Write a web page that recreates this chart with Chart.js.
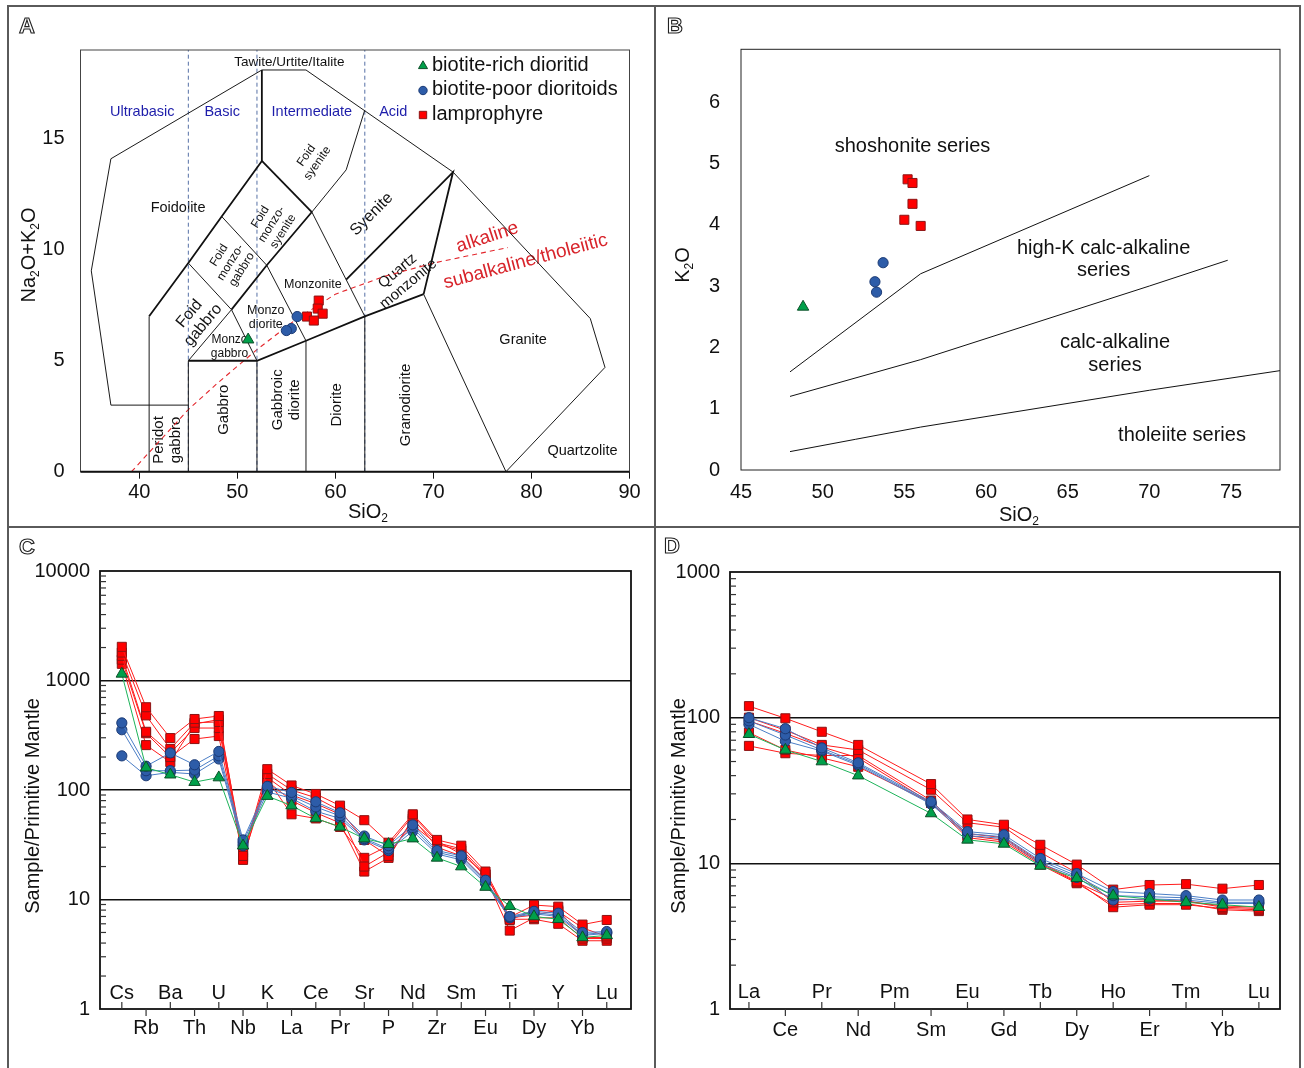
<!DOCTYPE html>
<html>
<head>
<meta charset="utf-8">
<script src="https://cdn.jsdelivr.net/npm/chart.js@4.4.1/dist/chart.umd.min.js"></script>
<style>
body { margin: 0; background: #fff; }
#page { position: relative; width: 1304px; height: 1068px; overflow: hidden; }
canvas { position: absolute; }
.rule { position: absolute; background: #5a5a5a; z-index: 2; }
.letter { position: absolute; z-index: 3; font: bold 22px 'Liberation Sans', Arial, sans-serif; line-height: 24px;
          color: #fff; -webkit-text-stroke: 1.1px #222; }
</style>
</head>
<body>
<div id="page">
  <canvas id="chartA" width="646" height="517" style="left:8px;top:8px"></canvas>
  <canvas id="chartB" width="644" height="517" style="left:656px;top:8px"></canvas>
  <canvas id="chartC" width="646" height="537" style="left:8px;top:529px"></canvas>
  <canvas id="chartD" width="644" height="537" style="left:656px;top:529px"></canvas>

  <div class="rule" style="left:7px;top:5px;width:1294px;height:2px"></div>
  <div class="rule" style="left:7px;top:5px;width:2px;height:1063px"></div>
  <div class="rule" style="left:1299px;top:5px;width:2px;height:1063px"></div>
  <div class="rule" style="left:654px;top:5px;width:2px;height:1063px"></div>
  <div class="rule" style="left:7px;top:526px;width:1294px;height:2px"></div>

  <div class="letter" style="left:19px;top:14px">A</div>
  <div class="letter" style="left:667px;top:14px">B</div>
  <div class="letter" style="left:19px;top:535px">C</div>
  <div class="letter" style="left:664px;top:534px">D</div>
</div>
<script>
const FONT = "'Liberation Sans', Arial, sans-serif";

// ---- A: TAS (SiO2 vs Na2O+K2O)
const tasRich = [[51.1, 5.95]];
const tasPoor = [[56.1, 6.99], [55.5, 6.45], [55.0, 6.36]];
const tasLamp = [[58.3, 7.71], [58.2, 7.35], [58.7, 7.12], [57.1, 6.99], [57.8, 6.81]];
const aXTicks = [40, 50, 60, 70, 80, 90];
const aYTicks = [0, 5, 10, 15];

// field boundaries (Middlemost 1994)
const tasThin = [
  [[37.1, 3], [35.1, 9.05], [37.1, 14.1], [52.5, 18.1], [57, 18.1], [72, 13.5], [86, 6.9], [87.5, 4.7], [77.4, 0]],
  [[37.1, 3], [45, 3]],
  [[41, 0], [41, 7]],
  [[45, 0], [45, 5]],
  [[52, 0], [52, 5]],
  [[57, 0], [57, 5.9]],
  [[63, 0], [63, 7]],
  [[69, 8], [77.4, 0]],
  [[45, 9.4], [49.4, 7.3]],
  [[48.4, 11.5], [53, 9.3]],
  [[45, 5], [49.4, 7.3], [52, 5]],
  [[53, 9.3], [57, 5.9]],
  [[57.6, 11.7], [63, 7]],
  [[57.6, 11.7], [61.1, 13.6], [63, 16.3]]
];
const tasThick = [
  [[45, 5], [52, 5], [57, 5.9], [63, 7], [69, 8]],
  [[41, 7], [45, 9.4], [48.4, 11.5], [52.5, 14]],
  [[52.5, 14], [52.5, 18.1]],
  [[52.5, 14], [57.6, 11.7]],
  [[49.4, 7.3], [53, 9.3], [57.6, 11.7]],
  [[61.1, 8.65], [72, 13.5], [69, 8]]
];
const acidBounds = [45, 52, 63];
const alkLine = [[39.2, 0], [45, 2.8], [48, 4], [52, 5.5], [55.8, 6.8], [60, 8], [65, 8.8], [70, 9.4], [77.6, 10.1]];

const tasNames = [
  { t: ['Tawite/Urtite/Italite'], x: 55.3, y: 18.46, s: 13.5, r: 0 },
  { t: ['Foidolite'], x: 43.95, y: 11.9, s: 14.5, r: 0 },
  { t: ['Foid', 'syenite'], x: 57.6, y: 14.07, s: 12, r: -55 },
  { t: ['Foid', 'monzo-', 'syenite'], x: 53.5, y: 11.15, s: 12, r: -58 },
  { t: ['Syenite'], x: 63.7, y: 11.6, s: 16, r: -45 },
  { t: ['Foid', 'monzo-', 'gabbro'], x: 49.3, y: 9.43, s: 12, r: -58 },
  { t: ['Foid', 'gabbro'], x: 45.8, y: 6.86, s: 16, r: -50 },
  { t: ['Monzonite'], x: 57.7, y: 8.43, s: 12.5, r: 0 },
  { t: ['Quartz', 'monzonite'], x: 66.9, y: 8.75, s: 15, r: -40 },
  { t: ['Monzo', 'diorite'], x: 52.9, y: 6.94, s: 12.5, r: 0 },
  { t: ['Monzo', 'gabbro'], x: 49.2, y: 5.63, s: 12, r: 0 },
  { t: ['Peridot', 'gabbro'], x: 42.9, y: 1.43, s: 15, r: -90 },
  { t: ['Gabbro'], x: 48.6, y: 2.79, s: 15, r: -90 },
  { t: ['Gabbroic', 'diorite'], x: 55.0, y: 3.24, s: 15, r: -90 },
  { t: ['Diorite'], x: 60.1, y: 3.01, s: 15, r: -90 },
  { t: ['Granodiorite'], x: 67.2, y: 3.01, s: 15, r: -90 },
  { t: ['Granite'], x: 79.15, y: 5.95, s: 14.5, r: 0 },
  { t: ['Quartzolite'], x: 85.2, y: 0.94, s: 14.5, r: 0 }
];
const zoneNames = [['Ultrabasic', 40.3], ['Basic', 48.45], ['Intermediate', 57.6], ['Acid', 65.9]];
const legendNames = ['biotite-rich dioritid', 'biotite-poor dioritoids', 'lamprophyre'];

// ---- B: SiO2 vs K2O
const kRich = [[48.8, 2.66]];
const kPoor = [[53.7, 3.38], [53.2, 3.07], [53.3, 2.90]];
const kLamp = [[55.2, 4.74], [55.5, 4.68], [55.5, 4.34], [55.0, 4.08], [56.0, 3.98]];
const bXTicks = [45, 50, 55, 60, 65, 70, 75];
const bYTicks = [0, 1, 2, 3, 4, 5, 6];
const shoLine = [[48, 1.6], [56, 3.2], [70, 4.8]];
const hkLine = [[48, 1.2], [56, 1.8], [63, 2.4], [70, 3.0], [74.8, 3.42]];
const caLine = [[48, 0.3], [52, 0.5], [56, 0.7], [63, 1.0], [70, 1.3], [78, 1.62]];
const seriesNames = [
  { t: ['shoshonite series'], x: 55.5, y: 5.28 },
  { t: ['high-K calc-alkaline', 'series'], x: 67.2, y: 3.43 },
  { t: ['calc-alkaline', 'series'], x: 67.9, y: 1.89 },
  { t: ['tholeiite series'], x: 72.0, y: 0.57 }
];

// ---- C: primitive mantle normalised spider
const spiderCats = ['Cs', 'Rb', 'Ba', 'Th', 'U', 'Nb', 'K', 'La', 'Ce', 'Pr', 'Sr', 'P', 'Nd', 'Zr', 'Sm', 'Eu', 'Ti', 'Dy', 'Y', 'Yb', 'Lu'];
const spiderRich = [
  [1150, 160, 138, 118, 130, 31, 88, 72, 55, 46, 36, 32, 36, 24, 20, 13, 8.7, 7.0, 6.6, 4.5, 4.7]
];
const spiderPoor = [
  [410, 165, 218, 170, 225, 35, 108, 95, 78, 62, 38, 31, 48, 28, 25, 15, 7.0, 7.8, 7.5, 5.0, 5.1],
  [355, 150, 150, 152, 205, 33, 103, 88, 70, 58, 36, 29, 45, 27, 24, 14.5, 6.9, 7.6, 7.2, 4.8, 5.0],
  [205, 135, 145, 140, 192, 31, 96, 84, 64, 55, 35, 28, 42, 26, 23, 14, 6.8, 7.4, 7.0, 4.7, 4.9]
];
const spiderLamp = [
  [2030, 570, 298, 445, 474, 25, 155, 110, 92, 72, 53, 33, 60, 35, 31, 18, 6.9, 8.9, 8.6, 5.9, 6.5],
  [1800, 480, 237, 412, 418, 23, 140, 100, 85, 65, 35, 25, 53, 33, 29, 17, 6.5, 8.0, 7.8, 5.5, 4.6],
  [1680, 340, 218, 368, 368, 27, 130, 90, 75, 60, 20, 27, 48, 32, 28, 16, 5.2, 6.8, 6.8, 4.4, 4.4],
  [1550, 330, 200, 292, 311, 24, 120, 80, 62, 50, 18, 24, 55, 30, 25, 15, 6.6, 6.6, 6.0, 4.2, 4.2],
  [1420, 257, 180, 400, 440, 28, 125, 60, 55, 46, 24, 31, 58, 34, 26, 17, 6.8, 7.2, 8.0, 4.5, 4.5]
];
const cYTicks = [1, 10, 100, 1000, 10000];

// ---- D: REE (Pm not analysed)
const reeCats = ['La', 'Ce', 'Pr', 'Nd', 'Pm', 'Sm', 'Eu', 'Gd', 'Tb', 'Dy', 'Ho', 'Er', 'Tm', 'Yb', 'Lu'];
const reeRich = [
  [77, 60, 50, 40, null, 22, 14.5, 13.6, 9.6, 7.9, 6.0, 5.7, 5.4, 5.2, 5.0]
];
const reePoor = [
  [100, 84, 62, 49, null, 26.5, 16.5, 15.7, 10.8, 8.5, 6.4, 6.2, 6.0, 5.6, 5.6],
  [95, 76, 60, 48, null, 26, 16, 15.2, 10.4, 8.2, 6.0, 5.9, 5.8, 5.4, 5.4],
  [90, 69, 59, 47, null, 25.5, 15.5, 14.8, 10.0, 8.0, 5.6, 5.7, 5.6, 5.3, 5.3]
];
const reeLamp = [
  [120, 99, 80, 65, null, 35, 20, 18.4, 13.4, 9.8, 6.6, 7.1, 7.2, 6.7, 7.1],
  [100, 82, 65, 60, null, 32, 19, 17.7, 11.9, 8.6, 5.4, 5.5, 5.5, 5.0, 4.9],
  [95, 78, 63, 53, null, 26, 16, 15, 10.2, 7.5, 5.0, 5.2, 5.2, 4.9, 4.8],
  [79, 60, 53, 46, null, 26, 15, 14, 9.8, 7.3, 5.2, 5.3, 5.3, 4.8, 4.7],
  [64, 57, 55, 55, null, 27, 15.5, 14.4, 10, 7.4, 5.7, 5.6, 5.5, 5.1, 5.0]
];
const dYTicks = [1, 10, 100, 1000];

const groups = {
  rich: { line: '#1db35a', fill: '#00a04a', edge: '#0c4f28', style: 'triangle', r: 6.6, order: 0 },
  poor: { line: '#4b7ec6', fill: '#2d5ca8', edge: '#1b3a74', style: 'circle', r: 5.1, order: 1 },
  lamp: { line: '#ff1c1c', fill: '#ff0000', edge: '#8c1414', style: 'rect', r: 6.4, order: 2 }
};

Chart.defaults.font.family = FONT;
Chart.defaults.color = '#111';

document.addEventListener('DOMContentLoaded', function() {
    makeTas();
    makeK2O();
    makeSpider('chartC', spiderCats, [spiderRich, spiderPoor, spiderLamp], cYTicks,
        { xMin: -0.9, xMax: 21, yWidth: 92, pad: { top: 42, right: 23 }, inY: 16, outY: 19, title: [25, 277] });
    makeSpider('chartD', reeCats, [reeRich, reePoor, reeLamp], dYTicks,
        { xMin: -0.52, xMax: 14.58, yWidth: 74, pad: { top: 43, right: 20 }, inY: 17, outY: 21, title: [23, 277] });
});

function scatterSet(points, g) {
    return {
        data: points.map(p => ({ x: p[0], y: p[1] })),
        showLine: false, pointStyle: g.style, pointRadius: g.r,
        pointBackgroundColor: g.fill, pointBorderColor: g.edge, pointBorderWidth: 1, order: g.order
    };
}

function pathSet(points, color, width, dash) {
    return {
        data: points.map(p => ({ x: p[0], y: p[1] })),
        showLine: true, borderColor: color, borderWidth: width, borderDash: dash || [],
        pointRadius: 0, fill: false, tension: 0, order: 10
    };
}

function textBlock(ctx, lines, x, y, size, rot, color) {
    ctx.save();
    ctx.translate(x, y);
    ctx.rotate(rot * Math.PI / 180);
    ctx.font = size + 'px ' + FONT;
    ctx.fillStyle = color || '#111';
    ctx.textAlign = 'center';
    ctx.textBaseline = 'middle';
    const lh = size * 1.12;
    lines.forEach((t, i) => ctx.fillText(t, 0, (i - (lines.length - 1) / 2) * lh));
    ctx.restore();
}

// text with subscripts: odd entries are subscripts
function subText(ctx, parts, x, y, size, rot) {
    ctx.save();
    ctx.translate(x, y);
    ctx.rotate(rot * Math.PI / 180);
    ctx.fillStyle = '#111';
    ctx.textAlign = 'left';
    ctx.textBaseline = 'middle';
    const big = size + 'px ' + FONT, small = Math.round(size * 0.6) + 'px ' + FONT;
    let w = 0;
    parts.forEach((p, i) => { ctx.font = i % 2 ? small : big; w += ctx.measureText(p).width; });
    let cx = -w / 2;
    parts.forEach((p, i) => {
        ctx.font = i % 2 ? small : big;
        ctx.fillText(p, cx, i % 2 ? size * 0.32 : 0);
        cx += ctx.measureText(p).width;
    });
    ctx.restore();
}

function frame(chart, width, color) {
    const a = chart.chartArea, ctx = chart.ctx;
    ctx.save();
    ctx.lineWidth = width;
    ctx.strokeStyle = color;
    ctx.strokeRect(a.left, a.top, a.right - a.left, a.bottom - a.top);
    ctx.restore();
}

function linearAxes(xMin, xMax, yMin, yMax, xTicks, yTicks, fit) {
    return {
        x: {
            type: 'linear', min: xMin, max: xMax,
            afterBuildTicks: s => { s.ticks = xTicks.map(v => ({ value: v })); },
            afterFit: s => { s.height = fit.xh; },
            ticks: { font: { size: 20 }, padding: fit.xPad, autoSkip: false, maxRotation: 0 },
            grid: { display: fit.xMarks, drawOnChartArea: false, drawTicks: fit.xMarks, tickLength: 7, color: '#111' },
            border: { display: false }
        },
        y: {
            type: 'linear', min: yMin, max: yMax,
            afterBuildTicks: s => { s.ticks = yTicks.map(v => ({ value: v })); },
            afterFit: s => { s.width = fit.yw; },
            ticks: { font: { size: 20 }, padding: fit.yPad, autoSkip: false },
            grid: { display: false, drawTicks: false },
            border: { display: false }
        }
    };
}

function makeTas() {
    const datasets = [
        scatterSet(tasRich, groups.rich),
        scatterSet(tasPoor, groups.poor),
        scatterSet(tasLamp, groups.lamp)
    ];
    tasThin.forEach(l => datasets.push(pathSet(l, '#1a1a1a', 1)));
    tasThick.forEach(l => datasets.push(pathSet(l, '#111', 1.8)));
    acidBounds.forEach(v => datasets.push(pathSet([[v, 0], [v, 19]], '#5670a6', 1, [4, 3])));
    datasets.push(pathSet(alkLine, '#e3262c', 1.1, [5, 4]));

    const decor = {
        id: 'tasDecor',
        beforeDatasetsDraw(chart) {
            const ctx = chart.ctx, xs = chart.scales.x, ys = chart.scales.y;
            tasNames.forEach(l => textBlock(ctx, l.t, xs.getPixelForValue(l.x), ys.getPixelForValue(l.y), l.s, l.r));
            zoneNames.forEach(z => textBlock(ctx, [z[0]], xs.getPixelForValue(z[1]), ys.getPixelForValue(16.2), 14.5, 0, '#1d1daa'));
            textBlock(ctx, ['alkaline'], xs.getPixelForValue(75.5), ys.getPixelForValue(10.56), 19, -18, '#d8242b');
            textBlock(ctx, ['subalkaline/tholeiitic'], xs.getPixelForValue(79.4), ys.getPixelForValue(9.47), 19, -15, '#d8242b');
        },
        afterDraw(chart) {
            const ctx = chart.ctx, a = chart.chartArea;
            frame(chart, 1, '#444');
            ctx.save();
            ctx.strokeStyle = '#111';
            ctx.lineWidth = 2;
            ctx.beginPath();
            ctx.moveTo(a.left, a.bottom);
            ctx.lineTo(a.right, a.bottom);
            ctx.stroke();
            // legend
            const keys = [groups.rich, groups.poor, groups.lamp];
            keys.forEach((g, i) => {
                const y = 57 + i * 24.5;
                ctx.fillStyle = g.fill;
                ctx.strokeStyle = g.edge;
                ctx.lineWidth = 1;
                Chart.helpers.drawPoint(ctx, { pointStyle: g.style, radius: g.style === 'circle' ? 4.2 : 5.2, rotation: 0, borderWidth: 1 }, 415, y + 1);
                ctx.fillStyle = '#111';
                ctx.font = '20px ' + FONT;
                ctx.textAlign = 'left';
                ctx.textBaseline = 'middle';
                ctx.fillText(legendNames[i], 424, y);
            });
            ctx.restore();
            subText(ctx, ['Na', '2', 'O+K', '2', 'O'], 21, 247, 20, -90);
            subText(ctx, ['SiO', '2'], 360, 504, 20, 0);
        }
    };

    new Chart(document.getElementById('chartA'), {
        type: 'scatter',
        data: { datasets },
        options: {
            responsive: false, animation: false, events: [],
            layout: { padding: { top: 42, right: 24.5, left: 0, bottom: 0 } },
            plugins: { legend: { display: false }, tooltip: { enabled: false } },
            scales: linearAxes(34, 90, 0, 19, aXTicks, aYTicks, { xh: 53.3, yw: 72.5, xPad: 2, yPad: 16, xMarks: true })
        },
        plugins: [decor]
    });
}

function makeK2O() {
    const datasets = [
        scatterSet(kRich, groups.rich),
        scatterSet(kPoor, groups.poor),
        scatterSet(kLamp, groups.lamp),
        pathSet(shoLine, '#111', 1),
        pathSet(hkLine, '#111', 1),
        pathSet(caLine, '#111', 1)
    ];
    const decor = {
        id: 'k2oDecor',
        afterDraw(chart) {
            const ctx = chart.ctx, xs = chart.scales.x, ys = chart.scales.y;
            frame(chart, 1, '#222');
            seriesNames.forEach(l => textBlock(ctx, l.t, xs.getPixelForValue(l.x), ys.getPixelForValue(l.y), 20, 0));
            subText(ctx, ['K', '2', 'O'], 27, 257, 20, -90);
            subText(ctx, ['SiO', '2'], 363, 507, 20, 0);
        }
    };
    new Chart(document.getElementById('chartB'), {
        type: 'scatter',
        data: { datasets },
        options: {
            responsive: false, animation: false, events: [],
            layout: { padding: { top: 41.3, right: 20, left: 0, bottom: 0 } },
            plugins: { legend: { display: false }, tooltip: { enabled: false } },
            scales: linearAxes(45, 78, 0, 6.86, bXTicks, bYTicks, { xh: 55, yw: 85, xPad: 10, yPad: 21, xMarks: false })
        },
        plugins: [decor]
    });
}

function makeSpider(id, cats, sets, yTicks, o) {
    const yMin = yTicks[0], yMax = yTicks[yTicks.length - 1];
    const keys = [groups.rich, groups.poor, groups.lamp];
    const datasets = [];
    sets.forEach((rows, k) => {
        const g = keys[k];
        rows.forEach(row => {
            datasets.push({
                data: row.map((v, i) => (v == null ? null : { x: i, y: v })).filter(Boolean),
                borderColor: g.line, borderWidth: 1, tension: 0, fill: false,
                pointStyle: g.style, pointRadius: g.r, pointBackgroundColor: g.fill,
                pointBorderColor: g.edge, pointBorderWidth: 1, order: g.order
            });
        });
    });

    const decor = {
        id: 'spiderDecor',
        afterDraw(chart) {
            const ctx = chart.ctx, a = chart.chartArea, xs = chart.scales.x, ys = chart.scales.y;
            frame(chart, 1.8, '#111');
            ctx.save();
            ctx.strokeStyle = '#333';
            ctx.lineWidth = 1.2;
            // minor log ticks, inward
            for (let d = Math.log10(yMin); d < Math.log10(yMax); d++) {
                for (let m = 2; m <= 9; m++) {
                    const y = ys.getPixelForValue(m * Math.pow(10, d));
                    ctx.beginPath();
                    ctx.moveTo(a.left, y);
                    ctx.lineTo(a.left + 6, y);
                    ctx.stroke();
                }
            }
            // alternating element labels
            ctx.font = '20px ' + FONT;
            ctx.fillStyle = '#111';
            ctx.textAlign = 'center';
            ctx.textBaseline = 'middle';
            cats.forEach((c, i) => {
                const x = xs.getPixelForValue(i);
                const inner = i % 2 === 0;
                ctx.beginPath();
                ctx.moveTo(x, a.bottom);
                ctx.lineTo(x, inner ? a.bottom - 7 : a.bottom + 7);
                ctx.stroke();
                ctx.fillText(c, x, inner ? a.bottom - o.inY : a.bottom + o.outY);
            });
            ctx.restore();
            textBlock(ctx, ['Sample/Primitive Mantle'], o.title[0], o.title[1], 20, -90);
        }
    };

    new Chart(document.getElementById(id), {
        type: 'line',
        data: { datasets },
        options: {
            responsive: false, animation: false, events: [],
            layout: { padding: { top: o.pad.top, right: o.pad.right, left: 0, bottom: 0 } },
            plugins: { legend: { display: false }, tooltip: { enabled: false } },
            scales: {
                x: {
                    type: 'linear', min: o.xMin, max: o.xMax,
                    afterFit: s => { s.height = 57; },
                    ticks: { display: false },
                    grid: { display: false, drawTicks: false },
                    border: { display: false }
                },
                y: {
                    type: 'logarithmic', min: yMin, max: yMax,
                    afterBuildTicks: s => { s.ticks = yTicks.map(v => ({ value: v })); },
                    afterFit: s => { s.width = o.yWidth; },
                    ticks: { font: { size: 20 }, padding: 10, autoSkip: false, callback: v => String(v) },
                    grid: {
                        drawTicks: false, lineWidth: 1.5,
                        color: c => (c.tick && c.tick.value > yMin && c.tick.value < yMax) ? '#111' : 'rgba(0,0,0,0)'
                    },
                    border: { display: false }
                }
            }
        },
        plugins: [decor]
    });
}
</script>
</body>
</html>
